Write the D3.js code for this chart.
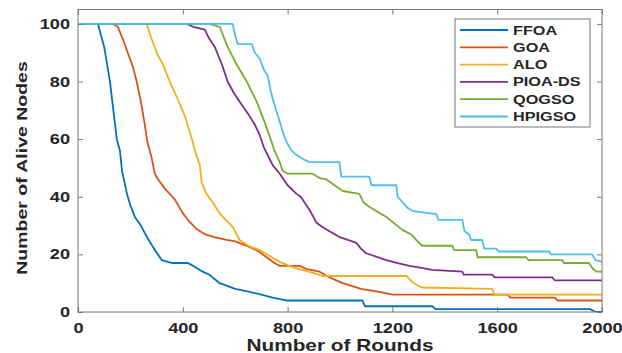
<!DOCTYPE html>
<html>
<head>
<meta charset="utf-8">
<script src="https://cdn.jsdelivr.net/npm/d3@7"></script>
<style>
  body { margin: 0; background: #fff; }
  svg { display: block; font-family: "Liberation Sans", Arial, sans-serif; }
</style>
</head>
<body>
<svg id="chart" width="622" height="353"></svg>
<script>
// tick labels
const xTicks = [0, 400, 800, 1200, 1600, 2000];
const yTicks = [0, 20, 40, 60, 80, 100];

// series names + colors (matlab default order)
const names = ["FFOA", "GOA", "ALO", "PIOA-DS", "QOGSO", "HPIGSO"];
const colors = ["#0072BD", "#D95319", "#EDB120", "#7E2F8E", "#77AC30", "#4DBEEE"];

// [round, alive nodes]
const ffoa = [[0,100],[76,100],[100,92],[122,80],[135,70],[148,60],[160,56],[168,49],[187,41],[200,37],[217,33],[240,30],[263,26],[290,22],[320,18],[360,17],[419,17],[440,16],[476,14],[500,13],[541,10],[600,8],[655,7],[700,6],[743,5],[796,4],[1086,4],[1095,2],[1352,2],[1365,1],[1955,1],[1975,0],[2000,0]];
const goa = [[0,100],[133,100],[152,99],[170,95],[190,90],[210,85],[224,80],[240,73],[255,65],[265,59],[280,54],[293,48],[306,46],[330,43],[370,39],[395,35],[419,32],[450,29],[484,27],[520,26],[567,25],[600,24.5],[655,22.6],[690,21],[720,19],[750,17],[770,16],[846,16],[870,15],[922,14],[960,12],[1010,10],[1080,8],[1150,7],[1200,6],[1640,6],[1650,5],[1820,5],[1830,4],[2000,4]];
const alo = [[0,100],[262,100],[280,95],[300,90],[324,86],[350,80],[380,74],[408,68],[425,63],[438,59],[446,56],[465,51],[472,45],[490,41],[515,38],[535,35],[553,33],[591,29.5],[617,25],[650,23],[693,21.5],[730,19.5],[770,17.4],[820,15.5],[857,14.6],[900,13.5],[933,12.5],[1253,12.5],[1276,10.4],[1300,9],[1314,8.5],[1580,8],[1590,6],[2000,6]];
const pioa = [[0,100],[414,100],[440,99],[484,98],[500,95],[522,92],[549,86],[571,80],[595,76],[617,73],[655,68],[675,65],[693,61.5],[710,57],[724,54.5],[743,51],[770,48],[800,44],[834,41],[850,40],[884,35.4],[910,31],[933,29.5],[960,28],[998,26],[1030,25],[1062,24],[1080,22],[1100,20.4],[1177,18],[1220,17],[1265,16],[1300,15.5],[1352,14.6],[1467,14],[1472,13],[1581,13],[1590,12],[1810,12],[1820,11],[2000,11]];
const qogso = [[0,100],[500,100],[541,99],[571,92],[605,86],[644,80],[682,73],[712,66],[739,59],[750,56],[770,52],[781,49],[800,48],[895,48],[922,46.5],[948,46],[1010,42],[1074,41],[1090,38],[1112,36.5],[1140,35],[1177,33],[1238,28.5],[1270,27],[1291,25],[1314,23],[1429,23],[1435,21.5],[1520,21.5],[1525,19],[1710,19],[1720,18],[1848,18],[1855,17],[1950,17],[1965,15],[1980,14],[2000,14]];
const hpigso = [[0,100],[590,100],[600,96],[610,93],[663,93],[675,90],[693,88],[710,84],[724,82],[735,77],[743,74],[760,69],[770,66],[787,61],[796,59],[815,56],[834,54.5],[860,53],[884,52],[998,52],[1005,47],[1112,47],[1120,44],[1215,44],[1220,40],[1240,38],[1260,36],[1280,35],[1368,34],[1375,32],[1467,32],[1475,28],[1493,27],[1500,25],[1543,25],[1550,22],[1596,22],[1605,21],[1798,21],[1805,20],[1962,20],[1975,18],[2000,17.5]];

const series = [ffoa, goa, alo, pioa, qogso, hpigso];

const L = 78, R = 602, T = 9.5, B = 312;
const sx = 1.3; // text in the picture is stretched sideways

const svg = d3.select("#chart");

const xScale = d3.scaleLinear().domain([0, 2000]).range([L, R]);
const yScale = d3.scaleLinear().domain([0, 105]).range([B, T]);

svg.append("clipPath").attr("id", "clip")
  .append("rect").attr("x", L).attr("y", T).attr("width", R - L).attr("height", B - T);

// lines
const line = d3.line().x((d) => xScale(d[0])).y((d) => yScale(d[1]));
svg.append("g").attr("clip-path", "url(#clip)")
  .selectAll("path")
  .data(series)
  .enter()
  .append("path")
  .attr("d", line)
  .attr("fill", "none")
  .attr("stroke", (d, i) => colors[i])
  .attr("stroke-width", 1.8)
  .attr("stroke-linejoin", "round");

// axes, ticks inward like matlab
const axisColor = "#777";
const textColor = "#262626";
const fmt = d3.format("d");

const gx = svg.append("g").attr("transform", `translate(0,${B})`)
  .call(d3.axisBottom(xScale).tickValues(xTicks).tickFormat(fmt).tickSize(-5).tickSizeOuter(0));
const gy = svg.append("g").attr("transform", `translate(${L},0)`)
  .call(d3.axisLeft(yScale).tickValues(yTicks).tickFormat(fmt).tickSize(-5).tickSizeOuter(0));
const gt = svg.append("g").attr("transform", `translate(0,${T})`)
  .call(d3.axisTop(xScale).tickValues(xTicks).tickSize(-5).tickSizeOuter(0).tickFormat(""));
const gr = svg.append("g").attr("transform", `translate(${R},0)`)
  .call(d3.axisRight(yScale).tickValues(yTicks).tickSize(-5).tickSizeOuter(0).tickFormat(""));

[gx, gy, gt, gr].forEach((g) => {
  g.select(".domain").remove();
  g.selectAll("line").attr("stroke", axisColor);
});

gx.selectAll("text")
  .attr("x", 0).attr("y", 0).attr("dy", null)
  .attr("transform", `translate(0,21) scale(${sx},1)`)
  .attr("fill", textColor)
  .style("font-size", "14px").style("font-weight", "bold");

gy.selectAll("text")
  .attr("x", 0)
  .attr("transform", `translate(-8,0) scale(${sx},1)`)
  .attr("fill", textColor)
  .style("font-size", "14px").style("font-weight", "bold");

// box
svg.append("rect")
  .attr("x", L).attr("y", T).attr("width", R - L).attr("height", B - T)
  .attr("fill", "none").attr("stroke", axisColor).attr("stroke-width", 1);

// axis titles
svg.append("text")
  .attr("transform", `translate(${(L + R) / 2},351) scale(${sx},1)`)
  .attr("text-anchor", "middle")
  .attr("fill", textColor)
  .style("font-size", "16px").style("font-weight", "bold")
  .text("Number of Rounds");

svg.append("text")
  .attr("transform", `translate(27,168) rotate(-90) scale(${sx},1)`)
  .attr("text-anchor", "middle")
  .attr("fill", textColor)
  .style("font-size", "15px").style("font-weight", "bold")
  .text("Number of Alive Nodes");

// legend
const legend = svg.append("g").attr("transform", "translate(455,19)");
legend.append("rect")
  .attr("width", 135).attr("height", 108)
  .attr("fill", "#fff").attr("stroke", axisColor);

const items = legend.selectAll(".item")
  .data(names)
  .enter()
  .append("g")
  .classed("item", true)
  .attr("transform", (d, i) => `translate(0,${11 + i * 17.3})`);

items.append("line")
  .attr("x1", 5).attr("x2", 53)
  .attr("stroke", (d, i) => colors[i])
  .attr("stroke-width", 1.8);

items.append("text")
  .attr("transform", `translate(58,0) scale(${sx},1)`)
  .attr("dy", "0.36em")
  .attr("fill", textColor)
  .style("font-size", "12.5px").style("font-weight", "bold")
  .text((d) => d);
</script>
</body>
</html>
